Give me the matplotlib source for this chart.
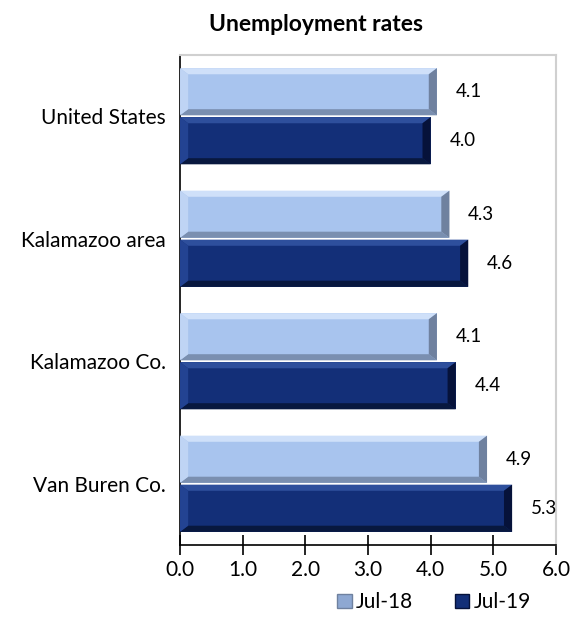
import numpy as np
import matplotlib
matplotlib.use("Agg")
import matplotlib.pyplot as plt
from matplotlib.patches import Polygon, Patch

plt.rcParams['font.family'] = ['Lato', 'DejaVu Sans']

areas = ["United States", "Kalamazoo area", "Kalamazoo Co.", "Van Buren Co."]
jul18 = [4.1, 4.3, 4.1, 4.9]
jul19 = [4.0, 4.6, 4.4, 5.3]
series_names = ["Jul-18", "Jul-19"]

# face, upper edge, lower edge, right cap, left cap
light = dict(face="#a8c4ee", top="#cfe0f9", bottom="#7a8fb0", end="#6f819f", left="#bfd4f4")
dark = dict(face="#132f78", top="#2e4f9c", bottom="#08183f", end="#06123a", left="#234392")


def bevel_bar(ax, y, width, h, pal, bx=0.13, by=0.05):
    # y axis is inverted, so y0 is the upper edge on screen
    y0, y1 = y - h / 2, y + h / 2
    ax.barh(y, width, height=h, color=pal["face"], edgecolor="none", zorder=2)
    faces = [
        ([(0, y0), (width, y0), (width - bx, y0 + by), (bx, y0 + by)], pal["top"]),
        ([(0, y1), (width, y1), (width - bx, y1 - by), (bx, y1 - by)], pal["bottom"]),
        ([(width, y0), (width, y1), (width - bx, y1 - by), (width - bx, y0 + by)], pal["end"]),
        ([(0, y0), (0, y1), (bx, y1 - by), (bx, y0 + by)], pal["left"]),
    ]
    for pts, c in faces:
        ax.add_patch(Polygon(pts, closed=True, facecolor=c, edgecolor="none", zorder=3))


fig = plt.figure(figsize=(5.74, 6.17), dpi=100)
ax = fig.add_axes([0.3136, 0.1167, 0.655, 0.7942])

pos = np.arange(len(areas))
h = 0.385
off = 0.2
for i in pos:
    bevel_bar(ax, i - off, jul18[i], h, light)
    bevel_bar(ax, i + off, jul19[i], h, dark)
    ax.text(jul18[i] + 0.3, i - off, f"{jul18[i]:.1f}", va="center", ha="left", fontsize=13.5)
    ax.text(jul19[i] + 0.3, i + off, f"{jul19[i]:.1f}", va="center", ha="left", fontsize=13.5)

ax.set_xlim(0, 6)
ax.set_ylim(len(areas) - 0.5, -0.5)
ax.set_xticks(np.arange(0, 7, 1))
ax.set_xticklabels([f"{v:.1f}" for v in np.arange(0, 7, 1)], fontsize=15)
ax.set_yticks(pos)
ax.set_yticklabels(areas, fontsize=15)
ax.tick_params(axis="y", length=0, pad=10)
ax.tick_params(axis="x", direction="inout", length=14, width=1.2, pad=4)

for s in ["top", "right"]:
    ax.spines[s].set_color("#d0d0d0")
    ax.spines[s].set_linewidth(1.5)
for s in ["left", "bottom"]:
    ax.spines[s].set_color("black")
    ax.spines[s].set_linewidth(1.2)

fig.text(0.551, 0.961, "Unemployment rates", ha="center", va="center",
         fontsize=16.5, fontweight="bold")

handles = [Patch(facecolor="#8ea8d2", edgecolor="#6f819f"),
           Patch(facecolor=dark["face"], edgecolor=dark["end"])]
fig.legend(handles, series_names, loc="center", bbox_to_anchor=(0.756, 0.024), ncol=2,
           frameon=False, fontsize=15, handlelength=0.7, handleheight=0.7,
           handletextpad=0.2, columnspacing=2.0, borderaxespad=0, borderpad=0)

fig.savefig("out.png", dpi=100, facecolor="white")
